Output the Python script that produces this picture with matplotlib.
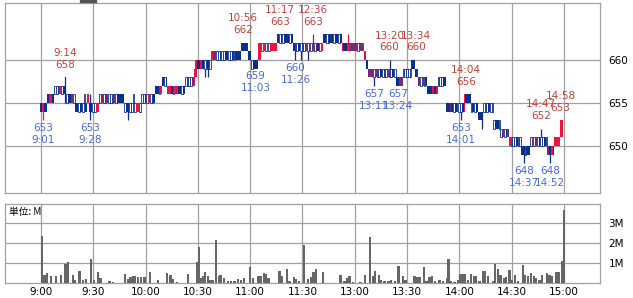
import matplotlib
matplotlib.use("Agg")
import matplotlib.pyplot as plt
from matplotlib.patches import Rectangle

# minute index: 0 = 9:00, 150 = 11:30 / 12:30 (lunch removed), 300 = 15:00
tick_pos = [0, 30, 60, 90, 120, 150, 180, 210, 240, 270, 300]
tick_lab = ["9:00", "9:30", "10:00", "10:30", "11:00", "11:30",
            "13:00", "13:30", "14:00", "14:30", "15:00"]

# price runs: (from, to, body low, body high, colour per minute)
# b = down (navy), r = up (red), p = purple, w = hollow
runs = [
    (0, 4, 654, 655, "brbb"),
    (4, 8, 655, 656, "brrb"),
    (8, 14, 656, 657, "wwbrwb"),
    (14, 15, 656, 658, "b"),
    (15, 20, 655, 656, "wbbpw"),
    (20, 25, 654, 655, "bbwbw"),
    (25, 26, 655, 656, "w"),
    (26, 27, 654, 655, "b"),
    (27, 28, 655, 656, "r"),
    (28, 29, 654, 655, "b"),
    (29, 34, 654, 655, "bwwrr"),
    (34, 48, 655, 656, "wpwwpwwwpwbbbb"),
    (48, 52, 654, 655, "wbbw"),
    (52, 53, 654, 655, "w"),
    (53, 54, 655, 656, "w"),
    (54, 58, 654, 655, "wrrw"),
    (58, 66, 655, 656, "wwbwrwwb"),
    (66, 70, 656, 657, "bbwr"),
    (70, 73, 657, 658, "bwb"),
    (73, 83, 656, 657, "rrbwrrbbwb"),
    (83, 88, 657, 658, "wwwwp"),
    (88, 89, 657, 659, "r"),
    (89, 90, 658, 660, "r"),
    (90, 98, 659, 660, "bbrbwwbw"),
    (98, 101, 660, 661, "rpp"),
    (101, 115, 660, 661, "wwbwwbbwwbwbbb"),
    (115, 119, 661, 662, "bbbb"),
    (119, 121, 660, 661, "bb"),
    (121, 125, 659, 660, "wbbb"),
    (125, 127, 660, 662, "rr"),
    (127, 131, 661, 662, "wrwr"),
    (131, 136, 661, 662, "wrrrr"),
    (136, 145, 662, 663, "bwbwbbbwb"),
    (145, 150, 661, 662, "bwwbw"),
    (150, 162, 661, 662, "wwpwpwpwpbwr"),
    (162, 173, 662, 663, "bbwwbbwbbwb"),
    (173, 186, 661, 662, "rbbrrppppwppr"),
    (186, 187, 660, 661, "r"),
    (187, 188, 659, 660, "b"),
    (188, 204, 658, 659, "pppwpwwbwwwpwwbw"),
    (204, 208, 657, 658, "bbpp"),
    (208, 213, 658, 659, "wwwww"),
    (213, 215, 659, 660, "bb"),
    (215, 217, 658, 659, "bp"),
    (217, 222, 657, 658, "pwpwb"),
    (222, 228, 656, 657, "bbbrbr"),
    (228, 233, 657, 658, "wwwbb"),
    (233, 243, 654, 655, "bbpbwbpwwb"),
    (243, 244, 654, 656, "r"),
    (244, 247, 655, 656, "bbb"),
    (247, 251, 654, 655, "wbwb"),
    (251, 254, 653, 654, "bbb"),
    (254, 260, 654, 655, "wwwbww"),
    (260, 264, 652, 653, "wbbw"),
    (264, 269, 651, 652, "wpwbp"),
    (269, 270, 650, 651, "r"),
    (270, 276, 650, 651, "wwwbww"),
    (276, 281, 649, 650, "bbwbb"),
    (281, 286, 650, 651, "wpwpw"),
    (286, 291, 650, 651, "bwwbw"),
    (291, 295, 649, 650, "pbrb"),
    (295, 298, 650, 651, "rrr"),
    (298, 300, 651, 653, "rr"),
]

wick_t = [1, 14, 28, 50, 94, 96, 146, 149, 153, 156, 176, 191, 200, 241, 253, 277, 287, 292]
wick_lo = [653, 655, 653, 653, 658, 658, 660, 660, 660, 661, 661, 657, 658, 653, 652, 648, 650, 648]
wick_hi = [655, 658, 656, 655, 660, 660, 662, 662, 662, 663, 663, 659, 660, 655, 654, 650, 652, 650]

hi_time = ["9:14", "10:56", "11:17", "12:36", "13:20", "13:34", "14:04", "14:47", "14:58"]
hi_t = [14, 116, 137, 156, 200, 215, 244, 287, 298]
hi_px = [658, 662, 663, 663, 660, 660, 656, 652, 653]

lo_time = ["9:01", "9:28", "11:03", "11:26", "13:11", "13:24", "14:01", "14:37", "14:52"]
lo_t = [1, 28, 123, 146, 191, 205, 241, 277, 292]
lo_px = [653, 653, 659, 660, 657, 657, 653, 648, 648]

vol_t = [0.0, 1.3, 2.9, 5.2, 8.0, 10.9, 13.4, 14.7, 17.6, 18.9, 21.4, 23.3, 25.2, 28.1, 29.6,
         31.9, 33.5, 38.6, 40.6, 47.6, 49.2, 50.7, 52.0, 53.4, 54.9, 56.8, 58.7, 62.0, 66.4,
         71.5, 73.6, 75.0, 77.5, 83.6, 88.9, 89.9, 91.2, 92.2, 93.5, 95.0, 96.6, 97.9, 99.8,
         101.4, 102.3, 104.2, 106.5, 108.4, 110.3, 112.3, 114.2, 115.7, 119.3, 120.9, 123.7,
         125.2, 127.2, 128.5, 129.8, 136.2, 137.7, 140.4, 141.9, 144.4, 145.7, 147.3, 150.1,
         152.4, 154.3, 155.7, 157.2, 161.0, 171.1, 173.4, 175.0, 176.3, 178.2, 182.6, 185.3,
         188.2, 189.7, 191.0, 193.2, 194.5, 196.4, 198.7, 200.2, 202.5, 204.4, 206.9, 208.4,
         213.6, 215.1, 216.5, 219.0, 220.5, 222.2, 223.6, 225.5, 228.0, 229.9, 232.2, 233.1,
         234.3, 236.6, 238.5, 240.0, 241.4, 242.7, 244.2, 246.1, 247.7, 249.0, 250.9, 252.8,
         254.2, 255.7, 258.6, 259.9, 261.4, 262.9, 264.9, 266.2, 268.1, 269.5, 271.4, 272.9,
         275.8, 277.1, 278.7, 280.5, 282.1, 283.4, 285.3, 286.7, 289.7, 291.1, 292.5, 295.0,
         296.3, 298.3, 299.4]
vol_m = [2.37, 0.42, 0.5, 0.33, 0.37, 0.42, 0.97, 1.05, 0.42, 0.15, 0.62, 0.17, 0.22, 1.22, 0.17,
         0.55, 0.25, 0.12, 0.05, 0.47, 0.2, 0.28, 0.33, 0.37, 0.3, 0.3, 0.28, 0.55, 0.17,
         0.52, 0.42, 0.2, 0.05, 0.47, 1.05, 1.78, 0.25, 0.37, 0.55, 0.33, 0.17, 0.17, 2.17,
         0.37, 0.42, 0.25, 0.12, 0.08, 0.12, 0.22, 0.17, 0.25, 0.78, 0.25, 0.37,
         0.33, 0.5, 0.45, 0.25, 0.62, 0.33, 0.7, 0.12, 0.3, 0.22, 0.12, 1.92,
         0.2, 0.28, 0.53, 0.72, 0.53, 0.42, 0.08, 0.25, 0.33, 0.05, 0.05, 0.42,
         2.28, 0.33, 0.62, 0.38, 0.17, 0.12, 0.12, 0.17, 0.08, 0.83, 0.33, 0.17,
         0.33, 0.28, 0.28, 0.78, 0.12, 0.3, 0.33, 0.12, 0.17, 0.12, 0.25, 1.22,
         0.12, 0.05, 0.17, 0.47, 0.47, 0.45, 0.17, 0.47, 0.33, 0.33, 0.12, 0.62,
         0.58, 0.33, 0.12, 0.97, 0.72, 0.42, 0.25, 0.28, 0.67, 0.17, 0.42, 0.12,
         0.92, 0.42, 0.33, 0.5, 0.37, 0.25, 0.17, 0.42, 0.5, 0.42, 0.37, 0.55,
         0.55, 1.12, 3.67]

NAVY = "#0b2f8f"
RED = "#ee1144"
PURP = "#7a2a70"
GRID = "#a0a0a0"
fill = {"b": NAVY, "r": RED, "p": PURP, "w": "white"}

fig = plt.figure(figsize=(6.33, 2.98), dpi=100)
ax = fig.add_axes([5/633, 105/298, 595/633, 190/298])
axv = fig.add_axes([5/633, 15/298, 595/633, 79/298], sharex=ax)

# expand runs into per-minute lists
cd_t, cd_lo, cd_hi, cd_c = [], [], [], []
for a, b, lo, hi, cols in runs:
    assert len(cols) == b - a, (a, b)
    for i in range(a, b):
        cd_t.append(i)
        cd_lo.append(lo)
        cd_hi.append(hi)
        cd_c.append(cols[i - a])

wc = {t: c for t, c in zip(cd_t, cd_c)}
for t, lo, hi in zip(wick_t, wick_lo, wick_hi):
    c = fill[wc[t]] if wc[t] != "w" else NAVY
    ax.vlines(t, lo, hi, color=c, lw=0.9, zorder=2)

for t, lo, hi, c in zip(cd_t, cd_lo, cd_hi, cd_c):
    if c == "w":
        ax.bar(t, hi - lo, bottom=lo, width=1.0, facecolor="white",
               edgecolor=NAVY, linewidth=0.6, zorder=3)
    else:
        ax.bar(t, hi - lo, bottom=lo, width=1.0, color=fill[c], linewidth=0, zorder=3)

for s, t, p in zip(hi_time, hi_t, hi_px):
    ax.annotate(str(p), (t, p), xytext=(0, 9), textcoords="offset points",
                ha="center", va="center", fontsize=7.5, color="#c2413c", zorder=5)
    ax.annotate(s, (t, p), xytext=(0, 17.6), textcoords="offset points",
                ha="center", va="center", fontsize=7.5, color="#c2413c", zorder=5)
for s, t, p in zip(lo_time, lo_t, lo_px):
    ax.annotate(str(p), (t, p), xytext=(0, -5.6), textcoords="offset points",
                ha="center", va="center", fontsize=7.5, color="#4a6ad8", zorder=5)
    ax.annotate(s, (t, p), xytext=(0, -14.2), textcoords="offset points",
                ha="center", va="center", fontsize=7.5, color="#4a6ad8", zorder=5)

axv.bar(vol_t, vol_m, width=1.35, align="edge", color="#666666", linewidth=0, zorder=3)
axv.text(0.007, 0.9, "単位: M", transform=axv.transAxes, fontsize=7, va="center",
         family=["Noto Sans CJK JP", "DejaVu Sans"])

ax.set_xlim(-20.65, 320.7)
ax.set_ylim(644.53, 666.63)
axv.set_ylim(0, 3.95)

ax.set_yticks([650, 655, 660])
axv.set_yticks([1, 2, 3])
axv.set_yticklabels(["1M", "2M", "3M"])
axv.set_xticks(tick_pos)
axv.set_xticklabels(tick_lab)

for a in (ax, axv):
    a.set_axisbelow(True)
    a.grid(True, color=GRID, lw=0.9)
    a.yaxis.tick_right()
    a.tick_params(axis="y", length=0, pad=6, labelsize=7.5)
    a.tick_params(axis="x", length=0, pad=3, labelsize=7.5)
    for sp in a.spines.values():
        sp.set_color(GRID)
        sp.set_linewidth(0.9)
ax.tick_params(axis="x", labelbottom=False)

fig.patches.append(Rectangle((80/633, 296/298), 16/633, 2/298, transform=fig.transFigure,
                             color="#555555"))

fig.savefig("out.png", dpi=100)
